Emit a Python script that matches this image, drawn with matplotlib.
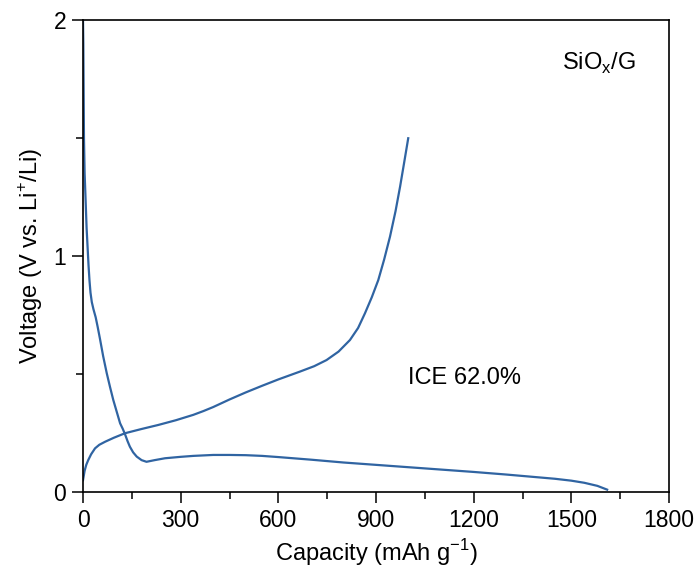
import matplotlib
matplotlib.use("Agg")
import matplotlib.pyplot as plt
from matplotlib.ticker import MultipleLocator

plt.rcParams['font.family'] = ['Liberation Sans', 'DejaVu Sans']
plt.rcParams['mathtext.fontset'] = 'custom'
plt.rcParams['mathtext.rm'] = 'Liberation Sans'

# discharge (lithiation) curve
dis_cap = [0, 1, 2, 3, 5, 8, 11, 14, 17, 20, 23, 27, 32, 39, 45, 52, 62, 73, 83,
           93, 104, 114, 122, 129, 137, 144, 154, 165, 180, 195, 220, 252, 300,
           339, 400, 450, 500, 550, 600, 700, 800, 900, 1000, 1100, 1200, 1300,
           1400, 1450, 1500, 1540, 1580, 1610]
dis_v = [2.0, 1.9, 1.7, 1.5, 1.35, 1.237, 1.12, 1.04, 0.96, 0.895, 0.845, 0.805,
         0.775, 0.74, 0.70, 0.65, 0.575, 0.503, 0.445, 0.39, 0.338, 0.291,
         0.268, 0.245, 0.215, 0.192, 0.168, 0.15, 0.135, 0.128, 0.135, 0.143,
         0.149, 0.153, 0.157, 0.157, 0.156, 0.153, 0.148, 0.137, 0.125, 0.115,
         0.105, 0.095, 0.085, 0.074, 0.062, 0.056, 0.048, 0.039, 0.026, 0.010]

# charge (delithiation) curve
chg_cap = [0, 5, 10, 16, 25, 37, 50, 68, 95, 129, 180, 231, 285, 339, 370, 400,
           450, 500, 550, 600, 666, 710, 748, 785, 820, 845, 866, 887, 907, 925,
           943, 960, 974, 987, 999]
chg_v = [0.05, 0.09, 0.115, 0.135, 0.16, 0.185, 0.20, 0.213, 0.23, 0.249, 0.267,
         0.284, 0.304, 0.327, 0.343, 0.36, 0.392, 0.422, 0.45, 0.477, 0.51,
         0.533, 0.559, 0.595, 0.644, 0.695, 0.757, 0.825, 0.898, 0.985, 1.082,
         1.19, 1.294, 1.40, 1.499]

line_color = '#3064a2'

fig = plt.figure(figsize=(7.0, 5.74), dpi=100)
ax = fig.add_axes([83 / 700, 1 - 492 / 574, 586 / 700, 472 / 574])

ax.plot(dis_cap, dis_v, color=line_color, lw=1.6, solid_joinstyle='round')
ax.plot(chg_cap, chg_v, color=line_color, lw=1.6, solid_joinstyle='round')

ax.set_xlim(0, 1800)
ax.set_ylim(0, 2)
ax.xaxis.set_major_locator(MultipleLocator(300))
ax.xaxis.set_minor_locator(MultipleLocator(150))
ax.yaxis.set_major_locator(MultipleLocator(1))
ax.yaxis.set_minor_locator(MultipleLocator(0.5))
ax.tick_params(which='both', direction='out', top=False, right=False,
               labelsize=16.5, width=1.1)
ax.tick_params(which='major', length=8, pad=4)
ax.tick_params(which='minor', length=5)
for s in ax.spines.values():
    s.set_linewidth(1.2)

ax.set_xlabel('Capacity (mAh g$^{-1}$)', fontsize=17, labelpad=4)
ax.set_ylabel('Voltage (V vs. Li$^{+}$/Li)', fontsize=17, labelpad=6)

ax.text(998, 0.483, 'ICE 62.0%', fontsize=17, ha='left', va='center')
ax.text(1470, 1.818, r'SiO$_\mathrm{x}$/G', fontsize=17, ha='left', va='center')

fig.savefig('out.png', dpi=100)
